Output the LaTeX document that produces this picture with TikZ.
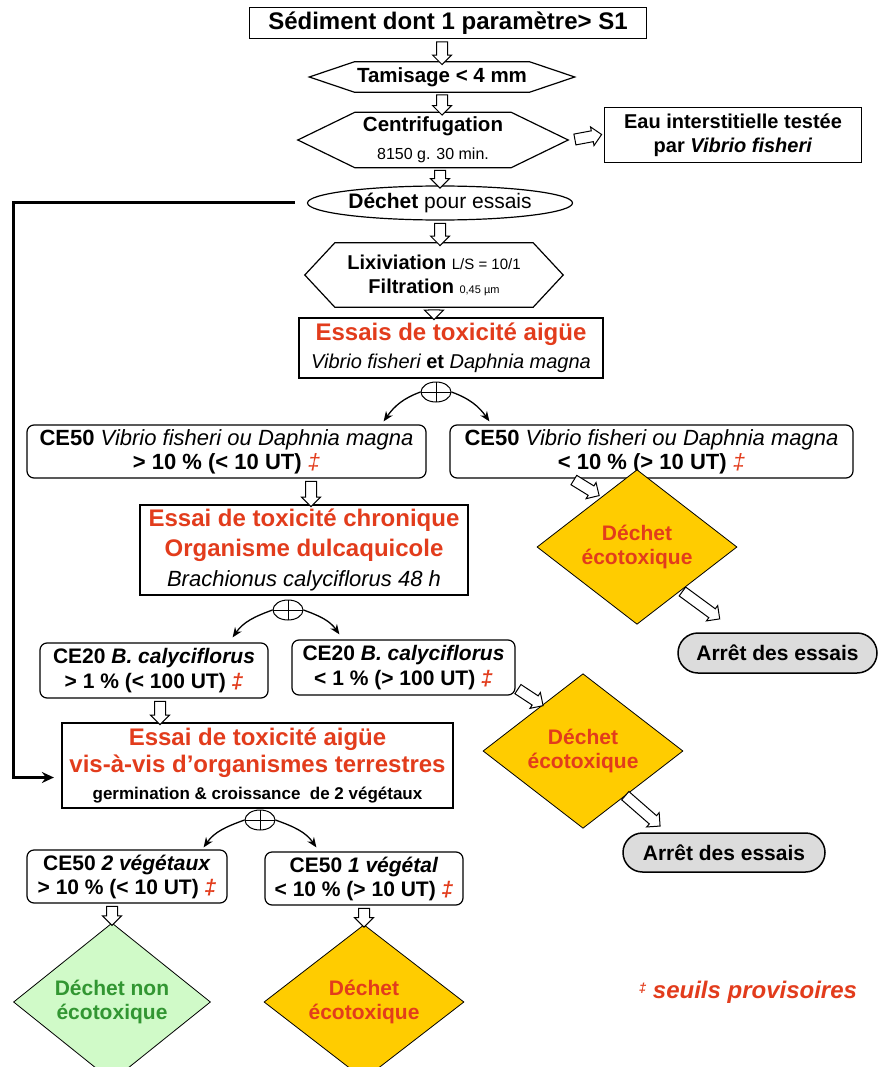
\documentclass[tikz,border=0pt]{standalone}
\usepackage{fontspec}
\setmainfont{Liberation Sans}
\usetikzlibrary{shapes.geometric,shapes.misc,shapes.arrows,arrows.meta,calc,positioning}

\definecolor{redtxt}{RGB}{226,60,28}
\definecolor{gold}{RGB}{255,204,0}
\definecolor{palegreen}{RGB}{208,250,200}
\definecolor{leafgreen}{RGB}{50,150,50}
\definecolor{stopgray}{RGB}{220,220,220}

\newcommand{\fsz}[2]{\fontsize{#1}{#2}\selectfont}
\newcommand{\seuil}{\textcolor{redtxt}{\textit{‡}}}
\newcommand{\blockarrow}[2]{%
  \path let \p1=($(#2)-(#1)$), \n1={veclen(\x1,\y1)} in
    (#1) -- (#2) node[hollow, midway, sloped, minimum height=\n1] {};}

\tikzset{hexbox/.style={rectangle, inner sep=0pt, align=center,
    append after command={\pgfextra{\draw[line width=1.2pt]
        ([xshift=#1]\tikzlastnode.north west) -- ([xshift=-#1]\tikzlastnode.north east) -- (\tikzlastnode.east)
        -- ([xshift=-#1]\tikzlastnode.south east) -- ([xshift=#1]\tikzlastnode.south west) -- (\tikzlastnode.west) -- cycle;}}}}

\begin{document}
\begin{tikzpicture}[x=1pt, y=-1pt]
    \tikzstyle{plainbox} = [rectangle, draw, line width=1.2pt, inner sep=0pt, align=center]
    \tikzstyle{titlebox} = [plainbox, minimum width=397pt, minimum height=31pt, font=\fsz{24}{28}\bfseries]
    \tikzstyle{testbox} = [rectangle, draw, line width=2.2pt, inner sep=0pt, align=center]
    \tikzstyle{resbox} = [rectangle, draw, rounded corners=7pt, line width=1.2pt, inner sep=0pt, align=center]
    \tikzstyle{toxic} = [diamond, draw, line width=0.8pt, fill=gold, text=redtxt, minimum width=200pt, minimum height=120pt, inner sep=0pt, align=center, font=\fsz{21}{24}\bfseries]
    \tikzstyle{safe} = [toxic, fill=palegreen, text=leafgreen, minimum width=197pt]
    \tikzstyle{stopbox} = [rounded rectangle, draw, line width=1.5pt, fill=stopgray, inner sep=0pt, font=\fsz{21}{24}\bfseries]
    \tikzstyle{splitnode} = [ellipse, draw, line width=1pt, fill=white, minimum width=30pt, minimum height=20pt, inner sep=0pt,
        path picture={\draw[line width=1pt] (path picture bounding box.north) -- (path picture bounding box.south)
            (path picture bounding box.west) -- (path picture bounding box.east);}]
    \tikzstyle{fork} = [line width=1.3pt, -{Stealth[length=10pt,width=8pt]}]
    \tikzstyle{hollow} = [single arrow, draw, line width=1pt, fill=white, minimum width=18pt, single arrow head extend=4pt, single arrow head indent=0pt, inner xsep=0pt, inner ysep=5pt, allow upside down]
    \tikzstyle{loopline} = [line width=3pt, -{Stealth[length=12pt,width=11pt]}]

    \useasboundingbox (0,0) rectangle (878,1067);

    % Preparation
    \node [titlebox] (sed) at (448,23) {Sédiment dont 1 paramètre> S1};
    \node [hexbox=45pt, below of=sed, node distance=54pt, xshift=-6pt, minimum width=265pt, minimum height=30pt,
        font=\fsz{20.5}{24}\bfseries] (tamis) {Tamisage < 4 mm};
    \node [hexbox=57pt, below of=tamis, node distance=63pt, xshift=-9pt, minimum width=270pt, minimum height=55pt,
        font=\fsz{20.5}{28}\bfseries] (centri)
        {Centrifugation\\{\fsz{16}{28}\mdseries 8150 g. 30 min.}};
    \node [plainbox, right of=centri, node distance=300pt, yshift=5pt, minimum width=257pt, minimum height=55pt,
        font=\fsz{20}{24}\bfseries] (eau) {Eau interstitielle testée\\par \textit{Vibrio fisheri}};
    \node [ellipse, draw, line width=1.2pt, inner sep=0pt, minimum width=265pt, minimum height=34pt,
        below of=centri, node distance=63pt, xshift=7pt, font=\fsz{21}{24}] (dechet) {\textbf{Déchet} pour essais};
    \node [hexbox=30pt, below of=dechet, node distance=72pt, xshift=-6pt, minimum width=258pt, minimum height=64pt,
        font=\fsz{20}{24}\bfseries] (lixi)
        {Lixiviation {\fsz{15}{24}\mdseries L/S = 10/1}\\Filtration {\fsz{11}{24}\mdseries 0,45 µm}};

    % Acute aquatic tests
    \node [testbox, below of=lixi, node distance=73pt, xshift=17pt, minimum width=304pt, minimum height=60pt,
        font=\fsz{24}{28}\bfseries] (aigue)
        {\textcolor{redtxt}{Essais de toxicité aigüe}\\{\fsz{20}{28}\mdseries\itshape Vibrio fisheri \textbf{\upshape et} Daphnia magna}};
    \node [splitnode, below of=aigue, node distance=44pt, xshift=-15pt] (split1) {};
    \node [resbox, below of=aigue, node distance=103.5pt, xshift=-224.5pt, minimum width=399pt, minimum height=53pt,
        font=\fsz{22}{24}] (ce50a) {\textbf{CE50} \textit{Vibrio fisheri ou Daphnia magna}\\\textbf{> 10 \% (< 10 UT)} \seuil};
    \node [resbox, right of=ce50a, node distance=425pt, minimum width=403pt, minimum height=53pt,
        font=\fsz{22}{24}] (ce50b) {\textbf{CE50} \textit{Vibrio fisheri ou Daphnia magna}\\\textbf{< 10 \% (> 10 UT)} \seuil};
    \node [toxic, below of=ce50b, node distance=95.5pt, xshift=-14.5pt] (eco1) {Déchet\\écotoxique};
    \node [stopbox, below of=eco1, node distance=106pt, xshift=140.5pt, minimum width=199pt, minimum height=40pt] (stop1) {Arrêt des essais};

    % Chronic test
    \node [testbox, below of=ce50a, node distance=98.5pt, xshift=77.5pt, minimum width=328pt, minimum height=90pt,
        font=\fsz{24}{30}\bfseries, text=redtxt] (chron)
        {Essai de toxicité chronique\\Organisme dulcaquicole\\{\fsz{22}{30}\mdseries\itshape\color{black} Brachionus calyciflorus 48 h}};
    \node [splitnode, below of=chron, node distance=60pt, xshift=-16pt] (split2) {};
    \node [resbox, below of=chron, node distance=120.5pt, xshift=-150pt, minimum width=228pt, minimum height=55pt,
        font=\fsz{21}{25}\bfseries] (ce20a) {CE20 \textit{B. calyciflorus}\\> 1 \% (< 100 UT) \seuil};
    \node [resbox, right of=ce20a, node distance=249.5pt, yshift=3pt, minimum width=223pt, minimum height=55pt,
        font=\fsz{21}{25}\bfseries] (ce20b) {CE20 \textit{B. calyciflorus}\\< 1 \% (> 100 UT) \seuil};
    \node [toxic, below of=ce20b, node distance=83.5pt, xshift=179.5pt] (eco2) {Déchet\\écotoxique};
    \node [stopbox, below of=eco2, node distance=101.5pt, xshift=141pt, minimum width=202pt, minimum height=39pt] (stop2) {Arrêt des essais};

    % Terrestrial test
    \node [testbox, below of=ce20a, node distance=95pt, xshift=103.5pt, minimum width=391pt, minimum height=85pt,
        font=\fsz{24}{27}\bfseries, text=redtxt] (terre)
        {Essai de toxicité aigüe\\vis-à-vis d’organismes terrestres\\{\fsz{17}{27}\color{black} germination \& croissance~ de 2 végétaux}};
    \node [splitnode, below of=terre, node distance=54.5pt, xshift=2.5pt] (split3) {};
    \node [resbox, below of=terre, node distance=111pt, xshift=-130.5pt, minimum width=200pt, minimum height=53pt,
        font=\fsz{21}{24}\bfseries] (ce50c) {CE50 \textit{2 végétaux}\\> 10 \% (< 10 UT) \seuil};
    \node [resbox, right of=ce50c, node distance=237pt, yshift=-2pt, minimum width=198pt, minimum height=53pt,
        font=\fsz{21}{24}\bfseries] (ce50d) {CE50 \textit{1 végétal}\\< 10 \% (> 10 UT) \seuil};
    \node [safe, below of=ce50c, node distance=125.5pt, xshift=-15pt] (nontox) {Déchet non\\écotoxique};
    \node [toxic, below of=ce50d, node distance=123.5pt] (eco3) {Déchet\\écotoxique};
    \node [right of=eco3, node distance=384pt, yshift=10pt, text=redtxt, font=\fsz{24}{28}\bfseries\itshape] (note)
        {\raisebox{6pt}{\fsz{13}{28}‡} seuils provisoires};

    % Hollow arrows
    \blockarrow{tamis.north |- sed.south}{tamis.north}
    \blockarrow{tamis.south}{tamis.south |- centri.north}
    \blockarrow{dechet.north |- centri.south}{dechet.north}
    \blockarrow{dechet.south}{dechet.south |- lixi.north}
    \blockarrow{lixi.south}{lixi.south |- aigue.north}
    \blockarrow{[xshift=4pt]centri.east}{[xshift=-5pt]eau.west}
    \blockarrow{[xshift=84.5pt]ce50a.south}{[xshift=7pt]chron.north}
    \blockarrow{[xshift=-80pt]ce50b.south}{[xshift=10pt,yshift=14pt]eco1.north west}
    \blockarrow{[xshift=-7pt,yshift=-4pt]eco1.south east}{[xshift=-60pt,yshift=15pt]stop1.north}
    \blockarrow{[xshift=6pt]ce20a.south}{[xshift=-97.5pt]terre.north}
    \blockarrow{[yshift=8pt]ce20b.south east}{[xshift=8pt,yshift=8pt]eco2.north west}
    \blockarrow{[xshift=-10pt,yshift=-4pt]eco2.south east}{[xshift=-66pt,yshift=8pt]stop2.north}
    \blockarrow{nontox.north |- ce50c.south}{nontox.north}
    \blockarrow{eco3.north |- ce50d.south}{eco3.north}

    % Splits
    \draw [fork] (split1.west) to[out=200,in=55] ([xshift=-43pt,yshift=3pt]ce50a.north east);
    \draw [fork] (split1.east) to[out=-20,in=125] ([xshift=40pt,yshift=3pt]ce50b.north west);
    \draw [fork] (split2.west) to[out=200,in=55] ([xshift=-36pt,yshift=5pt]ce20a.north east);
    \draw [fork] (split2.east) to[out=-20,in=125] ([xshift=48pt,yshift=5pt]ce20b.north west);
    \draw [fork] (split3.west) to[out=200,in=55] ([xshift=-24pt,yshift=2pt]ce50c.north east);
    \draw [fork] (split3.east) to[out=-20,in=125] ([xshift=52pt,yshift=4pt]ce50d.north west);

    % Waste goes straight to the terrestrial test
    \draw [loopline] ([xshift=-12pt]dechet.west) -- ++(-281pt,0pt) |- ([xshift=-7pt,yshift=-12pt]terre.west);
\end{tikzpicture}
\end{document}
